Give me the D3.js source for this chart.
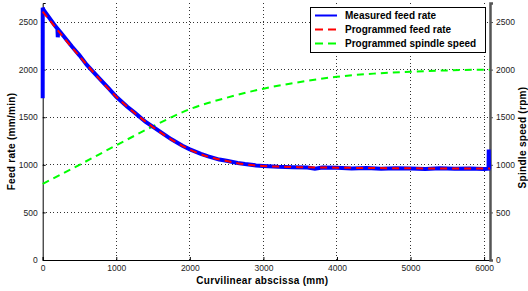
<!DOCTYPE html>
<html><head><meta charset="utf-8">
<script src="https://cdn.jsdelivr.net/npm/d3@7"></script>
<style>body{margin:0;background:#fff}svg{display:block;font-family:"Liberation Sans",Arial,sans-serif}</style>
</head><body>
<script>
// Programmed feed rate (mm/min) vs curvilinear abscissa (mm)
const progFeedS = [0,250,500,750,1000,1250,1500,1750,2000,2250,2500,2750,3000,3250,3500,4000,4500,5000,5500,6000,6080];
const progFeedV = [2610,2370,2140,1920,1715,1545,1395,1265,1160,1085,1040,1005,988,980,975,970,966,963,961,960,960];
// Measured feed rate
const measS = [0,0.5,10,150,200,205,212,250,400,500,600,750,900,1000,1150,1250,1400,1500,1650,1750,1900,2000,2150,2250,2400,2500,2650,2750,2900,3000,3200,3400,3600,3700,3800,4000,4200,4400,4600,4800,5000,5200,5400,5600,5800,6000,6060,6063,6068];
const measV = [1700,2650,2630,2480,2430,2340,2420,2385,2240,2150,2050,1925,1800,1715,1610,1548,1450,1398,1320,1268,1200,1163,1115,1088,1055,1042,1020,1008,994,988,979,974,972,958,971,968,962,966,958,964,960,956,963,958,961,957,960,1160,958];
// Programmed spindle speed (rpm)
const spinS = [0,500,1000,1500,2000,2500,3000,3500,4000,4500,5000,5500,6000,6080];
const spinV = [800,1000,1205,1405,1585,1705,1800,1870,1925,1958,1978,1992,2000,2000];
const xTicks = [0,1000,2000,3000,4000,5000,6000];
const yTicks = [0,500,1000,1500,2000,2500];
const legendLabels = ["Measured feed rate","Programmed feed rate","Programmed spindle speed"];
const colors = ["#0000ff","#ff0000","#00ff00"];

const W=528,H=291,L=42.7,R=490,T=3,B=260;
const svg=d3.select("body").append("svg").attr("width",W).attr("height",H);
const x=d3.scaleLinear().domain([0,6080]).range([L,R]);
const y=d3.scaleLinear().domain([0,2700]).range([B,T]);
const y2=d3.scaleLinear().domain([0,2700]).range([B,T]);

// grid
const g=svg.append("g");
g.selectAll(".vx").data(xTicks.filter(d=>d>0)).join("line")
 .attr("x1",d=>x(d)).attr("x2",d=>x(d)).attr("y1",T).attr("y2",B)
 .attr("stroke","#333").attr("stroke-width",1).attr("stroke-dasharray","1,2.5").attr("shape-rendering","crispEdges");
g.selectAll(".hy").data(yTicks.filter(d=>d>0)).join("line")
 .attr("x1",L).attr("x2",R).attr("y1",d=>y(d)).attr("y2",d=>y(d))
 .attr("stroke","#333").attr("stroke-width",1).attr("stroke-dasharray","1,2.5").attr("shape-rendering","crispEdges");

// axes
const fs="8.5px";
const ax=svg.append("g").attr("transform",`translate(0,${B})`)
 .call(d3.axisBottom(x).tickValues(xTicks).tickSize(-3).tickPadding(5).tickFormat(d3.format("d")));
const ay=svg.append("g").attr("transform",`translate(${L},0)`)
 .call(d3.axisLeft(y).tickValues(yTicks).tickSize(-3).tickPadding(5).tickFormat(d3.format("d")));
const ay2=svg.append("g").attr("transform",`translate(${R},0)`)
 .call(d3.axisRight(y2).tickValues(yTicks).tickSize(3).tickPadding(3).tickFormat(d3.format("d")));
[ax,ay,ay2].forEach(a=>{a.selectAll("text").attr("font-size",fs).attr("fill","#222").attr("font-family","Liberation Sans, Arial, sans-serif");
 a.selectAll("line").attr("stroke","#000");});
ax.select(".domain").attr("stroke","#000");
ay.select(".domain").attr("stroke","#000");
ay2.select(".domain").attr("stroke","#555").attr("stroke-width",2.5);
ay2.selectAll("line").attr("stroke","#555");

// lines
const lineF=d3.line().x(d=>x(d[0])).y(d=>y(d[1]));
const lineS=d3.line().x(d=>x(d[0])).y(d=>y2(d[1]));
const pl=svg.append("g");
pl.append("path").datum(d3.zip(spinS,spinV)).attr("d",lineS.curve(d3.curveMonotoneX))
 .attr("fill","none").attr("stroke",colors[2]).attr("stroke-width",2).attr("stroke-dasharray","7,5");
pl.append("path").datum(d3.zip(measS,measV)).attr("d",d3.line().x(d=>x(d[0])).y(d=>y(d[1])))
 .attr("fill","none").attr("stroke",colors[0]).attr("stroke-width",4).attr("stroke-linejoin","miter");
pl.append("path").datum(d3.zip(progFeedS,progFeedV)).attr("d",lineF.curve(d3.curveMonotoneX))
 .attr("fill","none").attr("stroke",colors[1]).attr("stroke-width",2).attr("stroke-dasharray","7,5");

// titles
svg.append("text").attr("x",(L+R)/2-4).attr("y",284).attr("text-anchor","middle")
 .attr("font-size","10px").attr("font-weight","bold").attr("letter-spacing","0.3px").text("Curvilinear abscissa (mm)");
svg.append("text").attr("transform",`translate(15,${(T+B)/2+10}) rotate(-90)`).attr("text-anchor","middle")
 .attr("font-size","10px").attr("font-weight","bold").attr("letter-spacing","0.3px").text("Feed rate (mm/min)");
svg.append("text").attr("transform",`translate(526,${(T+B)/2+6}) rotate(-90)`).attr("text-anchor","middle")
 .attr("font-size","10px").attr("font-weight","bold").attr("letter-spacing","0.3px").text("Spindle speed (rpm)");

// legend
const lg=svg.append("g");
lg.append("rect").attr("x",310.5).attr("y",7.5).attr("width",175).attr("height",45)
 .attr("fill","#fff").attr("stroke","#000").attr("stroke-width",1);
const ly=[15.5,29.5,43.5];
legendLabels.forEach((t,i)=>{
 lg.append("line").attr("x1",315).attr("x2",337).attr("y1",ly[i]).attr("y2",ly[i])
  .attr("stroke",colors[i]).attr("stroke-width",2).attr("stroke-dasharray",i===0?null:"8,5");
 lg.append("text").attr("x",345).attr("y",ly[i]+3.5).attr("font-size","10px").attr("font-weight","bold").text(t);
});
</script>
</body></html>
